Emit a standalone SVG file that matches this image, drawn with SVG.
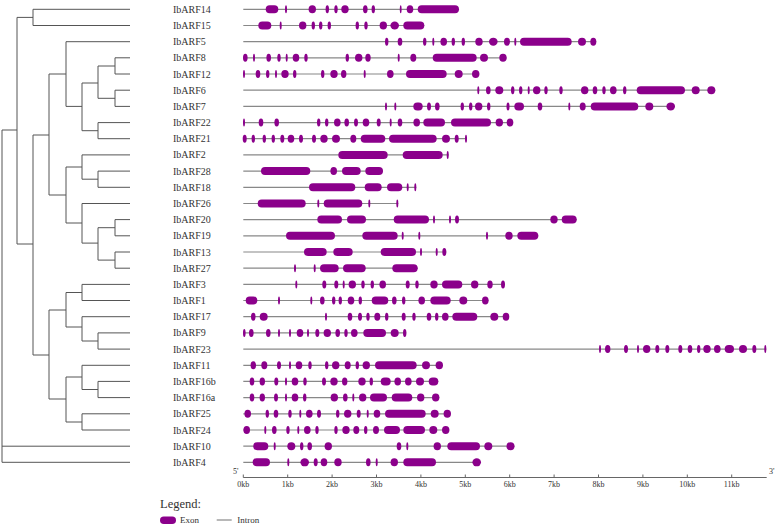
<svg xmlns="http://www.w3.org/2000/svg" width="777" height="526" viewBox="0 0 777 526">
<style>
.t{font-family:"Liberation Serif","Times New Roman",serif;font-size:10px;fill:#333}
.s{font-family:"Liberation Serif","Times New Roman",serif;font-size:8px;fill:#333}
.lg{font-family:"Liberation Serif","Times New Roman",serif;font-size:12.5px;fill:#333}
.e{fill:#8b008b}
.i{stroke:#888;stroke-width:1.2}
.tr{stroke:#555;stroke-width:1;fill:none}
.ax{stroke:#666;stroke-width:1;fill:none}
</style>
<rect width="777" height="526" fill="#fff"/>
<g id="tree" class="tr">
<path d="M2,130V462.3M2,446.2H130M2,462.3H130M2,130H17"/>
<path d="M17,17.4V244M17,17.4H33M33,9.3V25.5M33,9.3H130M33,25.5H130"/>
<path d="M17,244H33M33,135V355M33,135H49M49,74V195"/>
<path d="M49,74H66M66,41.7V106.4M66,41.7H130M66,106.4H82M82,83V130.7"/>
<path d="M82,83H98M98,66V98.3M98,66H115M115,57.8V74M115,57.8H130M115,74H130M98,98.3H115M115,90.2V106.4M115,90.2H130M115,106.4H130"/>
<path d="M82,130.7H98M98,122.6V138.7M98,122.6H130M98,138.7H130"/>
<path d="M49,195H66M66,167V223M66,167H82M82,154.9V179.2M82,154.9H130M82,179.2H98M98,171.1V187.3M98,171.1H130M98,187.3H130"/>
<path d="M66,223H82M82,203.5V243.1M82,203.5H130M82,243.1H98M98,227.7V260.1M98,227.7H115M115,219.6V235.8M115,219.6H130M115,235.8H130M98,260.1H115M115,252V268.2M115,252H130M115,268.2H130"/>
<path d="M33,355H49M49,310V399M49,310H66M66,292.5V327M66,292.5H82M82,284.4V300.5M82,284.4H130M82,300.5H130M66,327H82M82,316.7V341M82,316.7H130M82,341H98M98,332.9V349.1M98,332.9H130M98,349.1H130"/>
<path d="M49,399H66M66,377V422M66,377H82M82,365.3V389.5M82,365.3H130M82,389.5H98M98,381.4V397.6M98,381.4H130M98,397.6H130M66,422H82M82,413.8V430M82,413.8H130M82,430H130"/>
</g>
<g id="IbARF14" transform="translate(0,9.3)"><text class="t" x="173" y="3.5">IbARF14</text><line class="i" x1="243.3" x2="459"/>
<rect class="e" x="265.7" y="-4" width="12.6" height="8" rx="4"/><ellipse class="e" cx="286" rx="1" ry="4"/><ellipse class="e" cx="312.3" rx="3.7" ry="4"/><ellipse class="e" cx="327.3" rx="1.7" ry="4"/><ellipse class="e" cx="336" rx="1.7" ry="4"/><ellipse class="e" cx="345" rx="3.7" ry="4"/><ellipse class="e" cx="365.3" rx="2.3" ry="4"/><ellipse class="e" cx="373.3" rx="1.7" ry="4"/><ellipse class="e" cx="400.7" rx="0.9" ry="4"/><ellipse class="e" cx="410" rx="3.3" ry="4"/><rect class="e" x="417.7" y="-4" width="41.3" height="8" rx="4"/></g>
<g id="IbARF15" transform="translate(0,25.5)"><text class="t" x="173" y="3.5">IbARF15</text><line class="i" x1="243.3" x2="424.3"/>
<rect class="e" x="258.3" y="-4" width="13" height="8" rx="4"/><ellipse class="e" cx="280.7" rx="1" ry="4"/><ellipse class="e" cx="302.7" rx="3.7" ry="4"/><ellipse class="e" cx="313.3" rx="1.7" ry="4"/><ellipse class="e" cx="320.7" rx="1.7" ry="4"/><ellipse class="e" cx="329.3" rx="1.7" ry="4"/><ellipse class="e" cx="357.3" rx="1.7" ry="4"/><ellipse class="e" cx="366" rx="1.7" ry="4"/><ellipse class="e" cx="383.3" rx="3.7" ry="4"/><ellipse class="e" cx="394.7" rx="4.3" ry="4"/><rect class="e" x="403.3" y="-4" width="21" height="8" rx="4"/></g>
<g id="IbARF5" transform="translate(0,41.7)"><text class="t" x="173" y="3.5">IbARF5</text><line class="i" x1="243.3" x2="596.3"/>
<ellipse class="e" cx="386.7" rx="1.7" ry="4"/><ellipse class="e" cx="400" rx="2.3" ry="4"/><ellipse class="e" cx="424.7" rx="1.7" ry="4"/><ellipse class="e" cx="433.3" rx="1" ry="4"/><ellipse class="e" cx="443.7" rx="3.3" ry="4"/><ellipse class="e" cx="453.3" rx="1.7" ry="4"/><ellipse class="e" cx="463.3" rx="1.7" ry="4"/><ellipse class="e" cx="479" rx="3.7" ry="4"/><ellipse class="e" cx="493.3" rx="4.3" ry="4"/><ellipse class="e" cx="507" rx="3" ry="4"/><ellipse class="e" cx="515.3" rx="1" ry="4"/><rect class="e" x="520" y="-4" width="51.7" height="8" rx="4"/><ellipse class="e" cx="582" rx="4" ry="4"/><ellipse class="e" cx="593.3" rx="3" ry="4"/></g>
<g id="IbARF8" transform="translate(0,57.8)"><text class="t" x="173" y="3.5">IbARF8</text><line class="i" x1="243.3" x2="506.5"/>
<ellipse class="e" cx="245.3" rx="2.3" ry="4"/><ellipse class="e" cx="254" rx="1" ry="4"/><ellipse class="e" cx="268.7" rx="2.3" ry="4"/><ellipse class="e" cx="279" rx="1.7" ry="4"/><ellipse class="e" cx="286.7" rx="1" ry="4"/><ellipse class="e" cx="296" rx="3.3" ry="4"/><ellipse class="e" cx="306" rx="1.7" ry="4"/><ellipse class="e" cx="347.3" rx="1.7" ry="4"/><ellipse class="e" cx="358.7" rx="3.7" ry="4"/><ellipse class="e" cx="368" rx="2.7" ry="4"/><ellipse class="e" cx="398.7" rx="1" ry="4"/><ellipse class="e" cx="413.3" rx="3" ry="4"/><rect class="e" x="432.7" y="-4" width="44" height="8" rx="4"/><ellipse class="e" cx="484" rx="4" ry="4"/><ellipse class="e" cx="503" rx="3.7" ry="4"/></g>
<g id="IbARF12" transform="translate(0,74)"><text class="t" x="173" y="3.5">IbARF12</text><line class="i" x1="243.3" x2="479.3"/>
<ellipse class="e" cx="244" rx="1" ry="4"/><ellipse class="e" cx="258" rx="2.3" ry="4"/><ellipse class="e" cx="267.7" rx="1.7" ry="4"/><ellipse class="e" cx="276" rx="1" ry="4"/><ellipse class="e" cx="285" rx="3.7" ry="4"/><ellipse class="e" cx="294.7" rx="1.7" ry="4"/><ellipse class="e" cx="322.7" rx="1.7" ry="4"/><ellipse class="e" cx="334" rx="3.7" ry="4"/><ellipse class="e" cx="343.7" rx="2.7" ry="4"/><ellipse class="e" cx="364.7" rx="1" ry="4"/><ellipse class="e" cx="390.3" rx="3.3" ry="4"/><rect class="e" x="406" y="-4" width="40.7" height="8" rx="4"/><ellipse class="e" cx="458.7" rx="4" ry="4"/><ellipse class="e" cx="475.7" rx="3.7" ry="4"/></g>
<g id="IbARF6" transform="translate(0,90.2)"><text class="t" x="173" y="3.5">IbARF6</text><line class="i" x1="243.3" x2="715.3"/>
<ellipse class="e" cx="478.3" rx="1" ry="4"/><ellipse class="e" cx="488.3" rx="2.3" ry="4"/><ellipse class="e" cx="499.3" rx="4" ry="4"/><ellipse class="e" cx="512.7" rx="1.7" ry="4"/><ellipse class="e" cx="520.7" rx="1.7" ry="4"/><ellipse class="e" cx="528.7" rx="1" ry="4"/><ellipse class="e" cx="536.7" rx="3.7" ry="4"/><ellipse class="e" cx="546" rx="1.7" ry="4"/><ellipse class="e" cx="561" rx="1.7" ry="4"/><ellipse class="e" cx="584.7" rx="3.7" ry="4"/><ellipse class="e" cx="595" rx="2.3" ry="4"/><ellipse class="e" cx="604" rx="1.7" ry="4"/><ellipse class="e" cx="613.3" rx="3.3" ry="4"/><ellipse class="e" cx="624.7" rx="1.7" ry="4"/><rect class="e" x="636.7" y="-4" width="48.3" height="8" rx="4"/><ellipse class="e" cx="695.7" rx="4" ry="4"/><ellipse class="e" cx="711.3" rx="4" ry="4"/></g>
<g id="IbARF7" transform="translate(0,106.4)"><text class="t" x="173" y="3.5">IbARF7</text><line class="i" x1="243.3" x2="675"/>
<ellipse class="e" cx="386" rx="1" ry="4"/><ellipse class="e" cx="395.3" rx="1" ry="4"/><rect class="e" x="413.3" y="-4" width="9.4" height="8" rx="4"/><ellipse class="e" cx="429" rx="2" ry="4"/><ellipse class="e" cx="437.3" rx="2.3" ry="4"/><ellipse class="e" cx="462.3" rx="1.7" ry="4"/><ellipse class="e" cx="470.7" rx="1.7" ry="4"/><ellipse class="e" cx="478.7" rx="3.7" ry="4"/><ellipse class="e" cx="488.7" rx="1.7" ry="4"/><ellipse class="e" cx="508" rx="1.5" ry="4"/><rect class="e" x="514.3" y="-4" width="9.7" height="8" rx="4"/><ellipse class="e" cx="540" rx="2.3" ry="4"/><ellipse class="e" cx="569.3" rx="1" ry="4"/><ellipse class="e" cx="582.7" rx="3" ry="4"/><rect class="e" x="590.7" y="-4" width="47.6" height="8" rx="4"/><ellipse class="e" cx="649.3" rx="4" ry="4"/><ellipse class="e" cx="670.7" rx="4.3" ry="4"/></g>
<g id="IbARF22" transform="translate(0,122.6)"><text class="t" x="173" y="3.5">IbARF22</text><line class="i" x1="243.3" x2="513"/>
<ellipse class="e" cx="244" rx="1" ry="4"/><ellipse class="e" cx="261" rx="2.3" ry="4"/><ellipse class="e" cx="276.7" rx="2.3" ry="4"/><ellipse class="e" cx="318.7" rx="1.7" ry="4"/><ellipse class="e" cx="326.7" rx="1.7" ry="4"/><ellipse class="e" cx="337.3" rx="3.3" ry="4"/><ellipse class="e" cx="346.7" rx="2.3" ry="4"/><ellipse class="e" cx="356" rx="2" ry="4"/><ellipse class="e" cx="366" rx="3.3" ry="4"/><ellipse class="e" cx="378.7" rx="2" ry="4"/><ellipse class="e" cx="390.7" rx="1" ry="4"/><ellipse class="e" cx="400" rx="2.3" ry="4"/><ellipse class="e" cx="416.7" rx="3.3" ry="4"/><rect class="e" x="423.3" y="-4" width="21.7" height="8" rx="4"/><rect class="e" x="451" y="-4" width="40" height="8" rx="4"/><ellipse class="e" cx="499.3" rx="3.7" ry="4"/><ellipse class="e" cx="510" rx="3.3" ry="4"/></g>
<g id="IbARF21" transform="translate(0,138.7)"><text class="t" x="173" y="3.5">IbARF21</text><line class="i" x1="243.3" x2="467"/>
<ellipse class="e" cx="244.7" rx="2" ry="4"/><ellipse class="e" cx="253.3" rx="1.7" ry="4"/><ellipse class="e" cx="264.3" rx="1.7" ry="4"/><ellipse class="e" cx="273.3" rx="1.7" ry="4"/><ellipse class="e" cx="282.3" rx="2" ry="4"/><ellipse class="e" cx="291" rx="3.3" ry="4"/><ellipse class="e" cx="301" rx="2" ry="4"/><ellipse class="e" cx="314" rx="2" ry="4"/><ellipse class="e" cx="324" rx="3.7" ry="4"/><ellipse class="e" cx="336" rx="4" ry="4"/><ellipse class="e" cx="353.3" rx="3" ry="4"/><rect class="e" x="360.7" y="-4" width="24.6" height="8" rx="4"/><rect class="e" x="389" y="-4" width="47.7" height="8" rx="4"/><ellipse class="e" cx="446" rx="4" ry="4"/><ellipse class="e" cx="456.7" rx="2" ry="4"/><ellipse class="e" cx="466" rx="1" ry="4"/></g>
<g id="IbARF2" transform="translate(0,154.9)"><text class="t" x="173" y="3.5">IbARF2</text><line class="i" x1="243.3" x2="448.7"/>
<rect class="e" x="338.3" y="-4" width="49.4" height="8" rx="4"/><rect class="e" x="402.7" y="-4" width="40" height="8" rx="4"/><ellipse class="e" cx="447.7" rx="1" ry="4"/></g>
<g id="IbARF28" transform="translate(0,171.1)"><text class="t" x="173" y="3.5">IbARF28</text><line class="i" x1="243.3" x2="383"/>
<rect class="e" x="261" y="-4" width="49.3" height="8" rx="4"/><ellipse class="e" cx="333.7" rx="3.3" ry="4"/><rect class="e" x="342" y="-4" width="18.7" height="8" rx="4"/><rect class="e" x="365.3" y="-4" width="17.7" height="8" rx="4"/></g>
<g id="IbARF18" transform="translate(0,187.3)"><text class="t" x="173" y="3.5">IbARF18</text><line class="i" x1="243.3" x2="416.3"/>
<rect class="e" x="309" y="-4" width="46.3" height="8" rx="4"/><rect class="e" x="364.7" y="-4" width="17" height="8" rx="4"/><rect class="e" x="387" y="-4" width="15.3" height="8" rx="4"/><ellipse class="e" cx="407.7" rx="1" ry="4"/><ellipse class="e" cx="415.3" rx="1" ry="4"/></g>
<g id="IbARF26" transform="translate(0,203.5)"><text class="t" x="173" y="3.5">IbARF26</text><line class="i" x1="243.3" x2="398.3"/>
<rect class="e" x="257.7" y="-4" width="48" height="8" rx="4"/><ellipse class="e" cx="318.3" rx="1" ry="4"/><rect class="e" x="323.7" y="-4" width="38.6" height="8" rx="4"/><ellipse class="e" cx="369.3" rx="1" ry="4"/><ellipse class="e" cx="397.3" rx="1" ry="4"/></g>
<g id="IbARF20" transform="translate(0,219.6)"><text class="t" x="173" y="3.5">IbARF20</text><line class="i" x1="243.3" x2="576.7"/>
<rect class="e" x="317.3" y="-4" width="24.7" height="8" rx="4"/><rect class="e" x="347" y="-4" width="19" height="8" rx="4"/><rect class="e" x="393.7" y="-4" width="35.3" height="8" rx="4"/><ellipse class="e" cx="434" rx="1" ry="4"/><ellipse class="e" cx="450" rx="1" ry="4"/><ellipse class="e" cx="457" rx="2" ry="4"/><ellipse class="e" cx="554" rx="3.7" ry="4"/><rect class="e" x="561.7" y="-4" width="15" height="8" rx="4"/></g>
<g id="IbARF19" transform="translate(0,235.8)"><text class="t" x="173" y="3.5">IbARF19</text><line class="i" x1="243.3" x2="538.3"/>
<rect class="e" x="286" y="-4" width="49" height="8" rx="4"/><rect class="e" x="362.3" y="-4" width="35.4" height="8" rx="4"/><ellipse class="e" cx="402.7" rx="1" ry="4"/><ellipse class="e" cx="419.3" rx="1" ry="4"/><ellipse class="e" cx="487" rx="1" ry="4"/><ellipse class="e" cx="509" rx="3.7" ry="4"/><rect class="e" x="517.3" y="-4" width="21" height="8" rx="4"/></g>
<g id="IbARF13" transform="translate(0,252)"><text class="t" x="173" y="3.5">IbARF13</text><line class="i" x1="243.3" x2="446.3"/>
<rect class="e" x="304" y="-4" width="22.7" height="8" rx="4"/><rect class="e" x="333.3" y="-4" width="19.4" height="8" rx="4"/><rect class="e" x="380.7" y="-4" width="35.3" height="8" rx="4"/><ellipse class="e" cx="421" rx="1" ry="4"/><ellipse class="e" cx="436.7" rx="1" ry="4"/><ellipse class="e" cx="444.3" rx="2" ry="4"/></g>
<g id="IbARF27" transform="translate(0,268.2)"><text class="t" x="173" y="3.5">IbARF27</text><line class="i" x1="243.3" x2="417.7"/>
<ellipse class="e" cx="295" rx="1" ry="4"/><ellipse class="e" cx="314.7" rx="1" ry="4"/><rect class="e" x="320" y="-4" width="18.7" height="8" rx="4"/><rect class="e" x="343" y="-4" width="22.7" height="8" rx="4"/><rect class="e" x="392.3" y="-4" width="25.4" height="8" rx="4"/></g>
<g id="IbARF3" transform="translate(0,284.4)"><text class="t" x="173" y="3.5">IbARF3</text><line class="i" x1="243.3" x2="505"/>
<ellipse class="e" cx="296.3" rx="1" ry="4"/><ellipse class="e" cx="324.3" rx="2" ry="4"/><ellipse class="e" cx="336.3" rx="2" ry="4"/><ellipse class="e" cx="343.7" rx="1" ry="4"/><ellipse class="e" cx="352.3" rx="3.7" ry="4"/><ellipse class="e" cx="363" rx="1.7" ry="4"/><ellipse class="e" cx="372.3" rx="1.7" ry="4"/><ellipse class="e" cx="382.7" rx="3.3" ry="4"/><ellipse class="e" cx="407.7" rx="2" ry="4"/><ellipse class="e" cx="417" rx="1.7" ry="4"/><ellipse class="e" cx="434" rx="3.7" ry="4"/><rect class="e" x="442" y="-4" width="20.3" height="8" rx="4"/><ellipse class="e" cx="474.7" rx="3.7" ry="4"/><ellipse class="e" cx="490" rx="2.7" ry="4"/><ellipse class="e" cx="503" rx="2" ry="4"/></g>
<g id="IbARF1" transform="translate(0,300.5)"><text class="t" x="173" y="3.5">IbARF1</text><line class="i" x1="243.3" x2="488.5"/>
<rect class="e" x="245.7" y="-4" width="11.6" height="8" rx="4"/><ellipse class="e" cx="279" rx="1" ry="4"/><ellipse class="e" cx="311.3" rx="1" ry="4"/><ellipse class="e" cx="322.3" rx="2.3" ry="4"/><ellipse class="e" cx="333.7" rx="1.7" ry="4"/><ellipse class="e" cx="340.3" rx="1.7" ry="4"/><ellipse class="e" cx="351" rx="3.3" ry="4"/><ellipse class="e" cx="360.3" rx="1.7" ry="4"/><rect class="e" x="371.7" y="-4" width="16.6" height="8" rx="4"/><ellipse class="e" cx="394.3" rx="2.3" ry="4"/><ellipse class="e" cx="403.7" rx="1.7" ry="4"/><ellipse class="e" cx="421.7" rx="3.3" ry="4"/><rect class="e" x="430.3" y="-4" width="20.4" height="8" rx="4"/><ellipse class="e" cx="463.3" rx="4" ry="4"/><ellipse class="e" cx="485.3" rx="3.3" ry="4"/></g>
<g id="IbARF17" transform="translate(0,316.7)"><text class="t" x="173" y="3.5">IbARF17</text><line class="i" x1="243.3" x2="509"/>
<ellipse class="e" cx="253.3" rx="2.3" ry="4"/><ellipse class="e" cx="263.7" rx="4" ry="4"/><ellipse class="e" cx="326" rx="1" ry="4"/><ellipse class="e" cx="350" rx="2.3" ry="4"/><ellipse class="e" cx="360" rx="2" ry="4"/><ellipse class="e" cx="368" rx="1.7" ry="4"/><ellipse class="e" cx="377.3" rx="3" ry="4"/><ellipse class="e" cx="386.7" rx="1.7" ry="4"/><ellipse class="e" cx="403.7" rx="2" ry="4"/><ellipse class="e" cx="414" rx="1.7" ry="4"/><ellipse class="e" cx="429" rx="2.3" ry="4"/><ellipse class="e" cx="436.7" rx="1.7" ry="4"/><ellipse class="e" cx="445.3" rx="3.3" ry="4"/><rect class="e" x="452.3" y="-4" width="25" height="8" rx="4"/><ellipse class="e" cx="494.3" rx="4" ry="4"/><ellipse class="e" cx="506" rx="3.3" ry="4"/></g>
<g id="IbARF9" transform="translate(0,332.9)"><text class="t" x="173" y="3.5">IbARF9</text><line class="i" x1="243.3" x2="406.3"/>
<ellipse class="e" cx="244.3" rx="1.3" ry="4"/><ellipse class="e" cx="251.3" rx="2.3" ry="4"/><ellipse class="e" cx="268.3" rx="2.3" ry="4"/><ellipse class="e" cx="279" rx="1" ry="4"/><ellipse class="e" cx="290" rx="1" ry="4"/><ellipse class="e" cx="300" rx="3.3" ry="4"/><ellipse class="e" cx="308" rx="1" ry="4"/><ellipse class="e" cx="317.3" rx="2" ry="4"/><ellipse class="e" cx="327.3" rx="3.7" ry="4"/><ellipse class="e" cx="337.7" rx="2.3" ry="4"/><ellipse class="e" cx="346" rx="1.7" ry="4"/><ellipse class="e" cx="354.3" rx="3.3" ry="4"/><rect class="e" x="363.3" y="-4" width="22.7" height="8" rx="4"/><ellipse class="e" cx="394.7" rx="4" ry="4"/><ellipse class="e" cx="404.7" rx="1.7" ry="4"/></g>
<g id="IbARF23" transform="translate(0,349.1)"><text class="t" x="173" y="3.5">IbARF23</text><line class="i" x1="243.3" x2="766.3"/>
<ellipse class="e" cx="600" rx="1" ry="4"/><ellipse class="e" cx="607.7" rx="2.7" ry="4"/><ellipse class="e" cx="626" rx="2" ry="4"/><ellipse class="e" cx="638" rx="1" ry="4"/><ellipse class="e" cx="646.7" rx="3.7" ry="4"/><ellipse class="e" cx="657.3" rx="2" ry="4"/><ellipse class="e" cx="667.3" rx="2" ry="4"/><ellipse class="e" cx="680.3" rx="2" ry="4"/><ellipse class="e" cx="690" rx="2.3" ry="4"/><ellipse class="e" cx="698.7" rx="1.7" ry="4"/><ellipse class="e" cx="707" rx="3.7" ry="4"/><ellipse class="e" cx="717.3" rx="3.3" ry="4"/><rect class="e" x="724.7" y="-4" width="9.3" height="8" rx="4"/><ellipse class="e" cx="743" rx="4" ry="4"/><ellipse class="e" cx="754.3" rx="2" ry="4"/><ellipse class="e" cx="765.3" rx="1" ry="4"/></g>
<g id="IbARF11" transform="translate(0,365.3)"><text class="t" x="173" y="3.5">IbARF11</text><line class="i" x1="243.3" x2="443"/>
<ellipse class="e" cx="253.3" rx="2.7" ry="4"/><ellipse class="e" cx="264.3" rx="3" ry="4"/><ellipse class="e" cx="279" rx="2" ry="4"/><ellipse class="e" cx="290" rx="1" ry="4"/><ellipse class="e" cx="299" rx="3.3" ry="4"/><ellipse class="e" cx="310" rx="1.7" ry="4"/><ellipse class="e" cx="326.7" rx="1.7" ry="4"/><ellipse class="e" cx="335.7" rx="3.7" ry="4"/><ellipse class="e" cx="347.7" rx="3" ry="4"/><ellipse class="e" cx="357.3" rx="1.7" ry="4"/><ellipse class="e" cx="366.3" rx="3.7" ry="4"/><rect class="e" x="375" y="-4" width="41.7" height="8" rx="4"/><ellipse class="e" cx="426" rx="4" ry="4"/><ellipse class="e" cx="439.3" rx="3.7" ry="4"/></g>
<g id="IbARF16b" transform="translate(0,381.4)"><text class="t" x="173" y="3.5">IbARF16b</text><line class="i" x1="243.3" x2="438.3"/>
<ellipse class="e" cx="252" rx="2.3" ry="4"/><ellipse class="e" cx="262.3" rx="2.7" ry="4"/><ellipse class="e" cx="276.3" rx="2" ry="4"/><ellipse class="e" cx="286" rx="1" ry="4"/><ellipse class="e" cx="295" rx="3.3" ry="4"/><ellipse class="e" cx="305" rx="1.7" ry="4"/><ellipse class="e" cx="324" rx="2" ry="4"/><ellipse class="e" cx="334" rx="3.7" ry="4"/><ellipse class="e" cx="344.7" rx="2.7" ry="4"/><ellipse class="e" cx="362" rx="3.7" ry="4"/><ellipse class="e" cx="371.3" rx="1.7" ry="4"/><rect class="e" x="380.7" y="-4" width="10" height="8" rx="4"/><ellipse class="e" cx="397.7" rx="3.3" ry="4"/><ellipse class="e" cx="408.3" rx="3.3" ry="4"/><ellipse class="e" cx="420" rx="4" ry="4"/><rect class="e" x="428.7" y="-4" width="9.6" height="8" rx="4"/></g>
<g id="IbARF16a" transform="translate(0,397.6)"><text class="t" x="173" y="3.5">IbARF16a</text><line class="i" x1="243.3" x2="439.3"/>
<ellipse class="e" cx="252" rx="2.3" ry="4"/><ellipse class="e" cx="262.3" rx="2.7" ry="4"/><ellipse class="e" cx="276" rx="2" ry="4"/><ellipse class="e" cx="286" rx="1" ry="4"/><ellipse class="e" cx="295" rx="3.3" ry="4"/><ellipse class="e" cx="304.7" rx="1.7" ry="4"/><ellipse class="e" cx="334.3" rx="3.7" ry="4"/><ellipse class="e" cx="345.3" rx="2.3" ry="4"/><ellipse class="e" cx="353.3" rx="1" ry="4"/><ellipse class="e" cx="362.7" rx="3.7" ry="4"/><rect class="e" x="370" y="-4" width="17" height="8" rx="4"/><rect class="e" x="391.7" y="-4" width="20.6" height="8" rx="4"/><ellipse class="e" cx="420.7" rx="3.7" ry="4"/><ellipse class="e" cx="435.7" rx="3.7" ry="4"/></g>
<g id="IbARF25" transform="translate(0,413.8)"><text class="t" x="173" y="3.5">IbARF25</text><line class="i" x1="243.3" x2="450.7"/>
<ellipse class="e" cx="247.7" rx="3.3" ry="4"/><ellipse class="e" cx="267.3" rx="1.7" ry="4"/><ellipse class="e" cx="276" rx="2.3" ry="4"/><ellipse class="e" cx="290" rx="1.7" ry="4"/><ellipse class="e" cx="300.3" rx="1" ry="4"/><ellipse class="e" cx="309.3" rx="3.3" ry="4"/><ellipse class="e" cx="319" rx="2" ry="4"/><ellipse class="e" cx="337.7" rx="1.7" ry="4"/><ellipse class="e" cx="347.7" rx="3.7" ry="4"/><ellipse class="e" cx="358.7" rx="2" ry="4"/><ellipse class="e" cx="367.7" rx="1" ry="4"/><ellipse class="e" cx="377" rx="3.3" ry="4"/><rect class="e" x="385" y="-4" width="40.7" height="8" rx="4"/><ellipse class="e" cx="434.7" rx="4" ry="4"/><ellipse class="e" cx="447.3" rx="3.7" ry="4"/></g>
<g id="IbARF24" transform="translate(0,430)"><text class="t" x="173" y="3.5">IbARF24</text><line class="i" x1="243.3" x2="449.3"/>
<ellipse class="e" cx="246.7" rx="3.3" ry="4"/><ellipse class="e" cx="265.3" rx="1" ry="4"/><ellipse class="e" cx="274.3" rx="2.3" ry="4"/><ellipse class="e" cx="288" rx="1.7" ry="4"/><ellipse class="e" cx="298.3" rx="1" ry="4"/><ellipse class="e" cx="307.3" rx="3.3" ry="4"/><ellipse class="e" cx="317" rx="1.7" ry="4"/><ellipse class="e" cx="336" rx="1.7" ry="4"/><ellipse class="e" cx="346" rx="3.7" ry="4"/><ellipse class="e" cx="356.3" rx="3" ry="4"/><ellipse class="e" cx="365.7" rx="1.7" ry="4"/><ellipse class="e" cx="376" rx="3" ry="4"/><rect class="e" x="384" y="-4" width="16" height="8" rx="4"/><rect class="e" x="403.3" y="-4" width="21.7" height="8" rx="4"/><ellipse class="e" cx="433.3" rx="4" ry="4"/><ellipse class="e" cx="445.7" rx="3.7" ry="4"/></g>
<g id="IbARF10" transform="translate(0,446.2)"><text class="t" x="173" y="3.5">IbARF10</text><line class="i" x1="243.3" x2="514.5"/>
<rect class="e" x="253.3" y="-4" width="15" height="8" rx="4"/><ellipse class="e" cx="274.7" rx="1" ry="4"/><ellipse class="e" cx="291.3" rx="4" ry="4"/><ellipse class="e" cx="301.7" rx="1.7" ry="4"/><ellipse class="e" cx="309.7" rx="2.3" ry="4"/><ellipse class="e" cx="328.3" rx="3.7" ry="4"/><ellipse class="e" cx="399" rx="2.3" ry="4"/><ellipse class="e" cx="407.3" rx="1" ry="4"/><ellipse class="e" cx="437.3" rx="3.7" ry="4"/><rect class="e" x="447.3" y="-4" width="32.7" height="8" rx="4"/><ellipse class="e" cx="488.3" rx="4" ry="4"/><ellipse class="e" cx="510.5" rx="4" ry="4"/></g>
<g id="IbARF4" transform="translate(0,462.3)"><text class="t" x="173" y="3.5">IbARF4</text><line class="i" x1="243.3" x2="481"/>
<rect class="e" x="252.7" y="-4" width="17.3" height="8" rx="4"/><ellipse class="e" cx="288.3" rx="1" ry="4"/><ellipse class="e" cx="304.7" rx="4.3" ry="4"/><ellipse class="e" cx="315.7" rx="2" ry="4"/><ellipse class="e" cx="324" rx="3.3" ry="4"/><ellipse class="e" cx="338" rx="3.7" ry="4"/><ellipse class="e" cx="368.3" rx="2.3" ry="4"/><ellipse class="e" cx="376.7" rx="1" ry="4"/><ellipse class="e" cx="394.3" rx="3.7" ry="4"/><rect class="e" x="403.3" y="-4" width="32.7" height="8" rx="4"/><ellipse class="e" cx="476.7" rx="4.3" ry="4"/></g>
<g id="axis">
<path class="ax" d="M243.3,477.5H766.7M243.3,474.5V477.5M287.7,474.5V477.5M332.1,474.5V477.5M376.5,474.5V477.5M420.9,474.5V477.5M465.3,474.5V477.5M509.7,474.5V477.5M554.1,474.5V477.5M598.5,474.5V477.5M642.9,474.5V477.5M687.3,474.5V477.5M731.7,474.5V477.5"/>
<text class="s" x="233" y="474">5'</text><text class="s" x="769" y="474">3'</text>
<g text-anchor="middle">
<text class="s" x="243.3" y="487">0kb</text><text class="s" x="287.7" y="487">1kb</text><text class="s" x="332.1" y="487">2kb</text><text class="s" x="376.5" y="487">3kb</text><text class="s" x="420.9" y="487">4kb</text><text class="s" x="465.3" y="487">5kb</text><text class="s" x="509.7" y="487">6kb</text><text class="s" x="554.1" y="487">7kb</text><text class="s" x="598.5" y="487">8kb</text><text class="s" x="642.9" y="487">9kb</text><text class="s" x="687.3" y="487">10kb</text><text class="s" x="731.7" y="487">11kb</text>
</g>
</g>
<g id="legend">
<text class="lg" x="160" y="507.5">Legend:</text>
<rect class="e" x="160" y="516.5" width="16" height="7.5" rx="3.75"/>
<text class="s" x="180" y="523" style="font-size:9px">Exon</text>
<line class="i" x1="216.7" x2="231.7" y1="520" y2="520"/>
<text class="s" x="237.3" y="523" style="font-size:9px">Intron</text>
</g>
</svg>
